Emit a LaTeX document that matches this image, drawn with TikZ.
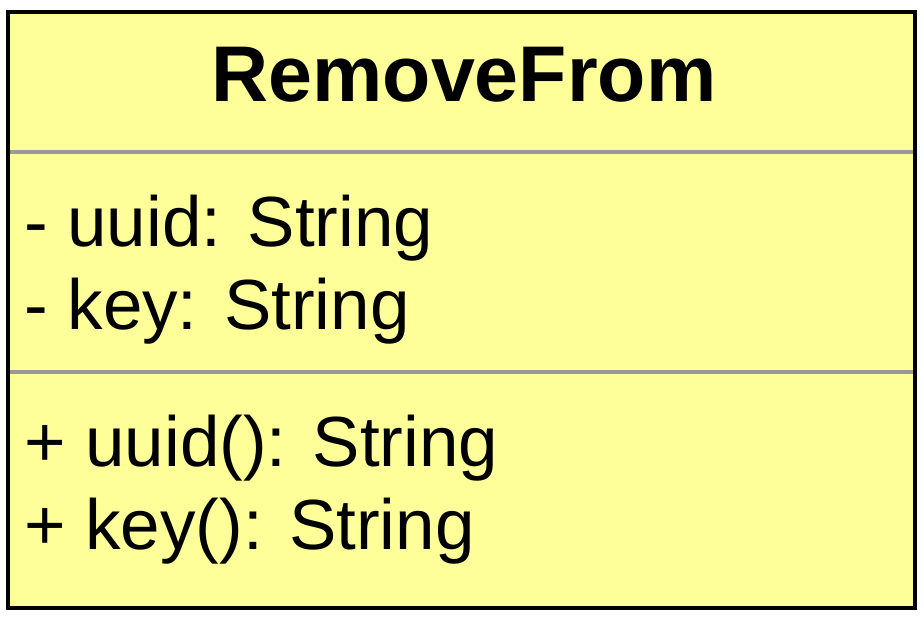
\documentclass[tikz,border=0pt]{standalone}
\usepackage{fontspec}
\setmainfont{Liberation Sans}
\usepackage{tikz}

\definecolor{classfill}{RGB}{255,255,153}
\definecolor{sepgray}{RGB}{153,153,153}

\begin{document}
\begin{tikzpicture}[x=1pt,y=-1pt,
    classbox/.style ={draw=black, line width=4pt, fill=classfill},
    separator/.style ={draw=sepgray, line width=3.5pt},
    member/.style ={anchor=base west, inner sep=0pt, font=\fontsize{71}{82}\selectfont}]
   \useasboundingbox (0,0) rectangle (924,620);

   \draw[classbox] (8,12) rectangle (915,608);

   \node[inner sep=0pt, font=\fontsize{79}{90}\selectfont\bfseries] (title) at (464,75) {RemoveFrom};

   \draw[separator] (10,152) -- (913,152);
   \draw[separator] (10,372) -- (913,372);

   % attributes
   \node[member] (attrUuid) at (24,247) {- uuid: String};
   \node[member] (attrKey)  at (24,330) {- key: String};

   % operations
   \node[member] (opUuid) at (24,466) {+ uuid(): String};
   \node[member] (opKey)  at (24,549) {+ key(): String};
 \end{tikzpicture}
\end{document}
